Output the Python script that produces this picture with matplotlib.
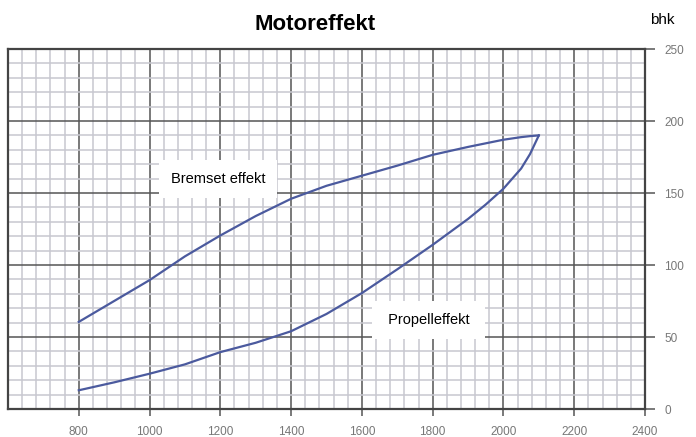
import numpy as np
import matplotlib.pyplot as plt
from matplotlib.ticker import MultipleLocator

plt.rcParams['font.family'] = ['Liberation Sans', 'DejaVu Sans']

# data
rpm_brems = [800, 900, 1000, 1100, 1200, 1300, 1400, 1500, 1600, 1700, 1800, 1900, 1950, 2000, 2050, 2075, 2100]
bhk_brems = [60.5, 75, 89.5, 106, 120.5, 134, 146, 155, 162, 169, 176.5, 182, 184.5, 187, 188.8, 189.5, 190]

rpm_prop = [800, 900, 1000, 1100, 1200, 1300, 1400, 1500, 1600, 1700, 1800, 1900, 1950, 2000, 2050, 2075, 2100]
bhk_prop = [13, 18.5, 24.5, 31, 39.5, 46, 54, 66, 80.5, 97, 114, 132, 142, 153, 167, 177, 190]

x_ticks = [800, 1000, 1200, 1400, 1600, 1800, 2000, 2200, 2400]
y_ticks = [0, 50, 100, 150, 200, 250]

fig = plt.figure(figsize=(6.96, 4.37), dpi=100)
ax = fig.add_axes([8 / 696, 1 - 409 / 437, 637 / 696, 360 / 437])

ax.set_xlim(600, 2400)
ax.set_ylim(0, 250)

ax.xaxis.set_major_locator(MultipleLocator(200))
ax.xaxis.set_minor_locator(MultipleLocator(40))
ax.yaxis.set_major_locator(MultipleLocator(50))
ax.yaxis.set_minor_locator(MultipleLocator(10))
ax.grid(which='minor', color='#c8c8d0', linewidth=1.1)
ax.grid(which='major', color='#555555', linewidth=1.1)
ax.set_axisbelow(True)

ax.set_xticks(x_ticks)
ax.set_yticks(y_ticks)
ax.yaxis.tick_right()
ax.tick_params(which='major', direction='out', length=5, width=1.1, color='#555555',
               labelcolor='#777777', labelsize=8.5)
ax.tick_params(axis='y', length=7, pad=7)
ax.tick_params(axis='x', pad=7)
ax.tick_params(which='minor', length=0)

for side in ['left', 'bottom', 'right', 'top']:
    ax.spines[side].set_color('#444444')
    ax.spines[side].set_linewidth(1.6)

ax.plot(rpm_brems, bhk_brems, color='#4b5a9e', linewidth=1.6)
ax.plot(rpm_prop, bhk_prop, color='#4b5a9e', linewidth=1.6)

box = dict(boxstyle='square,pad=0.8', facecolor='white', edgecolor='none')
ax.text(1193, 159.7, 'Bremset effekt', fontsize=10.5, ha='center', va='center', bbox=box)
ax.text(1789, 61.8, ' Propelleffekt ', fontsize=10.5, ha='center', va='center', bbox=box)

fig.text(315 / 696, 1 - 24 / 437, 'Motoreffekt', fontsize=16, fontweight='bold',
         ha='center', va='center')
fig.text(650 / 696, 1 - 20 / 437, 'bhk', fontsize=11, ha='left', va='center')

fig.savefig('out.png', dpi=100)
